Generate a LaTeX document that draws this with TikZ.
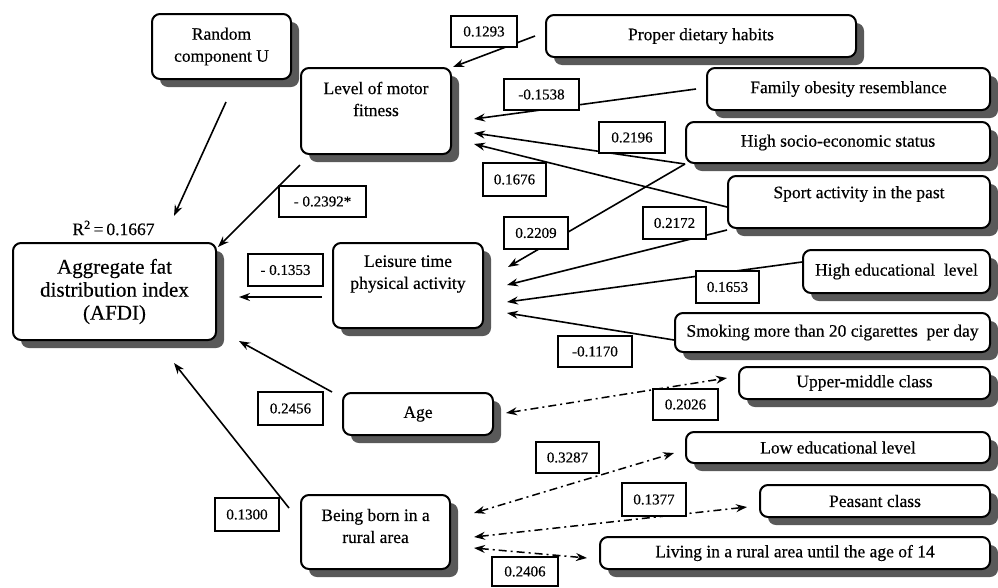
\documentclass[tikz,border=0pt]{standalone}
\usepackage{fontspec}
\setmainfont{Liberation Serif}[FakeBold=0.4]
\usetikzlibrary{arrows.meta,shadows}
\begin{document}
\begin{tikzpicture}[x=1pt,y=-1pt,
  box/.style={draw, line width=2pt, rounded corners=8pt, fill=white,
    drop shadow={shadow xshift=8pt, shadow yshift=-8pt, fill=black!65, opacity=1},
    inner sep=0pt, align=center, font=\fontsize{17.5}{22}\selectfont},
  txt/.style={align=center, inner sep=0pt, font=\fontsize{17.5}{22}\selectfont},
  lab/.style={draw, line width=1.3pt, fill=white, inner sep=0pt, font=\fontsize{15}{18}\selectfont},
  arr/.style={line width=1.6pt, -{Stealth[length=11pt,width=8pt]}},
  darr/.style={line width=1.5pt, dash pattern=on 8pt off 4pt on 2pt off 4pt,
    {Stealth[length=11pt,width=8pt]}-{Stealth[length=11pt,width=8pt]}},
]
\useasboundingbox (0,0) rectangle (998,587);
\fill[white] (0,0) rectangle (998,587);

% main boxes
\node[box, minimum width=139pt, minimum height=65pt] (ru) at (221.5,46.5) {Random\\component U};
\node[box, minimum width=150pt, minimum height=86pt] (mf) at (376,111) {};
\node[txt] (mft) at (376,99) {Level of motor\\fitness};
\node[box, minimum width=203pt, minimum height=97pt, font=\fontsize{21}{23}\selectfont] (afdi) at (114.5,291.5) {Aggregate fat\\distribution index\\(AFDI)};
\node[box, minimum width=150pt, minimum height=85pt] (la) at (408,285.5) {};
\node[txt] (lat) at (408,274) {Leisure time\\physical activity};
\node[box, minimum width=150pt, minimum height=42pt] (age) at (418,414) {Age};
\node[box, minimum width=149pt, minimum height=74pt] (rural) at (375.5,532) {};
\node[txt] (ruralt) at (375.5,526) {Being born in a\\rural area};

% right boxes
\node[box, minimum width=310pt, minimum height=42pt] (diet) at (701,36) {Proper dietary habits};
\node[box, minimum width=283pt, minimum height=42pt] (fam) at (848.5,89) {Family obesity resemblance};
\node[box, minimum width=304pt, minimum height=41pt] (socio) at (838,142.5) {High socio-economic status};
\node[box, minimum width=262pt, minimum height=52pt] (sport) at (859,202) {};
\node[txt] (sportt) at (859,194) {Sport activity in the past};
\node[box, minimum width=187pt, minimum height=43pt] (hedu) at (896.5,271.5) {High educational\ \ level};
\node[box, minimum width=315pt, minimum height=39pt] (smoke) at (832.5,332.5) {Smoking more than 20 cigarettes\ \ per day};
\node[box, minimum width=251pt, minimum height=32pt] (umc) at (864.5,383) {Upper-middle class};
\node[box, minimum width=304pt, minimum height=31pt] (ledu) at (838,447.5) {Low educational level};
\node[box, minimum width=230pt, minimum height=32pt] (peas) at (875,501) {Peasant class};
\node[box, minimum width=390pt, minimum height=32pt] (liv) at (795,553) {Living in a rural area until the age of 14};

% R squared
\node[txt] (r2) at (113.5,228) {R\textsuperscript{2}\,=\,0.1667};

% solid arrows
\draw[arr] ([shift={(4.5,22)}]ru.south) -- ([shift={(59.5,-26)}]afdi.north);
\draw[arr] ([shift={(-10,0)}]diet.west) -- ([shift={(1,0)}]mf.north east);
\draw[arr] ([shift={(-10,0)}]fam.west) -- ([shift={(22,8)}]mf.east);
\draw[arr] (socio.south west) -- ([shift={(22,22)}]mf.east);
\draw[arr] ([shift={(0,5)}]sport.west) -- ([shift={(22,33)}]mf.east);
\draw[arr] ([shift={(0,10)}]mf.south west) -- ([shift={(1,5)}]afdi.north east);
\draw[arr] (socio.south west) -- ([shift={(24,-18.5)}]la.east);
\draw[arr] ([shift={(0,1)}]sport.south west) -- ([shift={(23,-0.5)}]la.east);
\draw[arr] ([shift={(0,-9.5)}]hedu.west) -- ([shift={(23,16.5)}]la.east);
\draw[arr] ([shift={(0,7.5)}]smoke.west) -- ([shift={(23,27.5)}]la.east);
\draw[arr] ([shift={(-10,11.5)}]la.west) -- ([shift={(22,5.5)}]afdi.east);
\draw[arr] ([shift={(-10,0)}]age.north west) -- ([shift={(22,0)}]afdi.south east);
\draw[arr] ([shift={(-11,14)}]rural.north west) -- ([shift={(59.5,22)}]afdi.south);

% dash-dot double arrows
\draw[darr] ([shift={(12,-1)}]age.east) -- ([shift={(-11,-5)}]umc.west);
\draw[darr] ([shift={(23,-19)}]rural.east) -- ([shift={(-11,5.5)}]ledu.west);
\draw[darr] ([shift={(23,5)}]rural.east) -- ([shift={(-12,6)}]peas.west);
\draw[darr] ([shift={(23,16)}]rural.east) -- ([shift={(-12,5)}]liv.west);

% coefficient labels
\node[lab, minimum width=66pt, minimum height=31pt] (l1293) at (484,31.5) {0.1293};
\node[lab, minimum width=87pt, minimum height=31pt] (l2392) at (322.5,201.5) {- 0.2392*};
\node[lab, minimum width=75pt, minimum height=32pt] (l1353) at (285.5,270) {- 0.1353};
\node[lab, minimum width=75pt, minimum height=31pt] (l1538) at (541.5,94.5) {-0.1538};
\node[lab, minimum width=66pt, minimum height=31pt] (l2196) at (632,137.5) {0.2196};
\node[lab, minimum width=63pt, minimum height=33pt] (l1676) at (514.5,179.5) {0.1676};
\node[lab, minimum width=64pt, minimum height=32pt] (l2209) at (536,233) {0.2209};
\node[lab, minimum width=63pt, minimum height=32pt] (l2172) at (674.5,223) {0.2172};
\node[lab, minimum width=63pt, minimum height=32pt] (l1653) at (727.5,287) {0.1653};
\node[lab, minimum width=74pt, minimum height=31pt] (l1170) at (595,351.5) {-0.1170};
\node[lab, minimum width=65pt, minimum height=33pt] (l2456) at (290.5,408.5) {0.2456};
\node[lab, minimum width=64pt, minimum height=33pt] (l1300) at (247,514.5) {0.1300};
\node[lab, minimum width=65pt, minimum height=31pt] (l2026) at (685.5,404.5) {0.2026};
\node[lab, minimum width=63pt, minimum height=31pt] (l3287) at (567.5,457.5) {0.3287};
\node[lab, minimum width=64pt, minimum height=33pt] (l1377) at (654,499.5) {0.1377};
\node[lab, minimum width=66pt, minimum height=29pt] (l2406) at (525,571.5) {0.2406};
\end{tikzpicture}
\end{document}
